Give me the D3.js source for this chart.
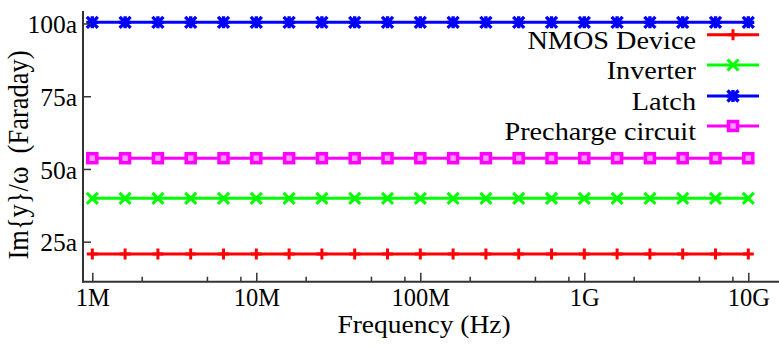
<!DOCTYPE html>
<html><head><meta charset="utf-8">
<script src="https://cdn.jsdelivr.net/npm/d3@7"></script>
<style>
html,body{margin:0;padding:0;background:#fff;}
text{font-family:"Liberation Serif","Times New Roman",serif;fill:#000;}
</style></head>
<body>
<svg id="chart" width="779" height="347"></svg>
<script>
// ---- data ----
const frequencies = [1e6,1.585e6,2.512e6,3.981e6,6.310e6,
  1e7,1.585e7,2.512e7,3.981e7,6.310e7,
  1e8,1.585e8,2.512e8,3.981e8,6.310e8,
  1e9,1.585e9,2.512e9,3.981e9,6.310e9,1e10];
const nmosDevice  = [20.8,20.8,20.8,20.8,20.8,20.8,20.8,20.8,20.8,20.8,20.8,20.8,20.8,20.8,20.8,20.8,20.8,20.8,20.8,20.8,20.8];
const inverter    = [39.9,39.9,39.9,39.9,39.9,39.9,39.9,39.9,39.9,39.9,39.9,39.9,39.9,39.9,39.9,39.9,39.9,39.9,39.9,39.9,39.9];
const latch       = [100.4,100.4,100.4,100.4,100.4,100.4,100.4,100.4,100.4,100.4,100.4,100.4,100.4,100.4,100.4,100.4,100.4,100.4,100.4,100.4,100.4];
const precharge   = [53.7,53.7,53.7,53.7,53.7,53.7,53.7,53.7,53.7,53.7,53.7,53.7,53.7,53.7,53.7,53.7,53.7,53.7,53.7,53.7,53.7];
const seriesNames = ["NMOS Device","Inverter","Latch","Precharge circuit"];
const seriesColors = ["#ff0000","#00ff00","#0000ff","#ff00ff"];
const seriesMarkers = ["plus","cross","star","square"];
const xTickValues = [1e6,1e7,1e8,1e9,1e10];
const xTickLabels = ["1M","10M","100M","1G","10G"];
const xMinorTicks = [2e6,5e6,8e6,2e7,5e7,8e7,2e8,5e8,8e8,2e9,5e9,8e9];
const yTickValues = [25,50,75,100];
const yTickLabels = ["25a","50a","75a","100a"];
const xTitle = "Frequency (Hz)";
const yTitle = "Im{y}/ω\u00a0 (Faraday)";

const seriesValues = [nmosDevice, inverter, latch, precharge];

// ---- layout ----
const svg = d3.select("#chart");
const W = 779, H = 347;
const axisX = 83, axisBottom = 281.7, axisTop = 11;
const x = d3.scaleLog().domain([1e6,1e10]).range([92.3,748.3]);
const y = d3.scaleLinear().domain([11.24,104.3]).range([axisBottom, axisTop]);
const axisColor = "#333";

const line = d3.line().x((d,i)=>x(frequencies[i])).y(d=>y(d));
function drawMarker(g, type, color, cx, cy){
  const s = 5.5;
  if(type==="plus"){
    g.append("path").attr("d",`M${cx-s},${cy}H${cx+s}M${cx},${cy-s}V${cy+s}`)
     .attr("stroke",color).attr("stroke-width",3).attr("fill","none");
  } else if(type==="cross"){
    g.append("path").attr("d",`M${cx-s},${cy-s}L${cx+s},${cy+s}M${cx-s},${cy+s}L${cx+s},${cy-s}`)
     .attr("stroke",color).attr("stroke-width",3).attr("fill","none");
  } else if(type==="star"){
    g.append("path").attr("d",`M${cx-s-0.5},${cy}H${cx+s+0.5}M${cx},${cy-s-0.5}V${cy+s+0.5}M${cx-s},${cy-s}L${cx+s},${cy+s}M${cx-s},${cy+s}L${cx+s},${cy-s}`)
     .attr("stroke",color).attr("stroke-width",3.4).attr("fill","none");
  } else if(type==="square"){
    g.append("rect").attr("x",cx-4.5).attr("y",cy-4.5).attr("width",9).attr("height",9)
     .attr("stroke",color).attr("stroke-width",3.5).attr("fill","#ff99ff");
  }
}
seriesValues.forEach((vals,si)=>{
  const g = svg.append("g");
  g.append("path").datum(vals).attr("d",line)
    .attr("fill","none").attr("stroke",seriesColors[si]).attr("stroke-width",3);
  vals.forEach((v,i)=>drawMarker(g, seriesMarkers[si], seriesColors[si], x(frequencies[i]), y(v)));
});

// axes lines
svg.append("line").attr("x1",axisX).attr("x2",axisX).attr("y1",axisTop).attr("y2",axisBottom+1)
  .attr("stroke",axisColor).attr("stroke-width",2);
svg.append("line").attr("x1",axisX-1).attr("x2",W).attr("y1",axisBottom).attr("y2",axisBottom)
  .attr("stroke",axisColor).attr("stroke-width",2);

// x axis
const xAxis = d3.axisBottom(x).tickValues(xTickValues).tickSize(-9).tickSizeOuter(0)
  .tickFormat((d,i)=>xTickLabels[i]);
const gx = svg.append("g").attr("transform",`translate(0,${axisBottom})`).call(xAxis);
gx.select(".domain").remove();
gx.selectAll(".tick line").attr("stroke",axisColor).attr("stroke-width",1.5);
gx.selectAll(".tick text").attr("font-size",24.5).style("font-family","Liberation Serif")
  .attr("fill","#000").attr("y",24.5).attr("dy",null);
const xMinor = d3.axisBottom(x).tickValues(xMinorTicks).tickSize(-5).tickFormat("");
const gxm = svg.append("g").attr("transform",`translate(0,${axisBottom})`).call(xMinor);
gxm.select(".domain").remove();
gxm.selectAll(".tick line").attr("stroke",axisColor).attr("stroke-width",1.5);

// y axis
const yAxis = d3.axisLeft(y).tickValues(yTickValues).tickSize(-8).tickSizeOuter(0)
  .tickFormat((d,i)=>yTickLabels[i]);
const gy = svg.append("g").attr("transform",`translate(${axisX},0)`).call(yAxis);
gy.select(".domain").remove();
gy.selectAll(".tick line").attr("stroke",axisColor).attr("stroke-width",1.5);
gy.selectAll(".tick text").attr("font-size",25.5).style("font-family","Liberation Serif")
  .attr("fill","#000").attr("x",-6).attr("dy","0.36em");

// titles
svg.append("text").attr("transform","translate(424,333) scale(1.1,1)").attr("text-anchor","middle")
  .attr("font-size",25).text(xTitle);
svg.append("text").attr("transform","translate(28,155) rotate(-90) scale(1,1.12)").attr("text-anchor","middle")
  .attr("font-size",26.5).text(yTitle);

// legend
const legendY = [34.7,65,96,126];
seriesNames.forEach((name,i)=>{
  const g = svg.append("g");
  g.append("text").attr("transform",`translate(696,${legendY[i]+14}) scale(1.13,1)`)
    .attr("text-anchor","end").attr("font-size",25).text(name);
  g.append("line").attr("x1",707).attr("x2",759).attr("y1",legendY[i]).attr("y2",legendY[i])
    .attr("stroke",seriesColors[i]).attr("stroke-width",3);
  drawMarker(g, seriesMarkers[i], seriesColors[i], 733, legendY[i]);
});
</script>
</body></html>
